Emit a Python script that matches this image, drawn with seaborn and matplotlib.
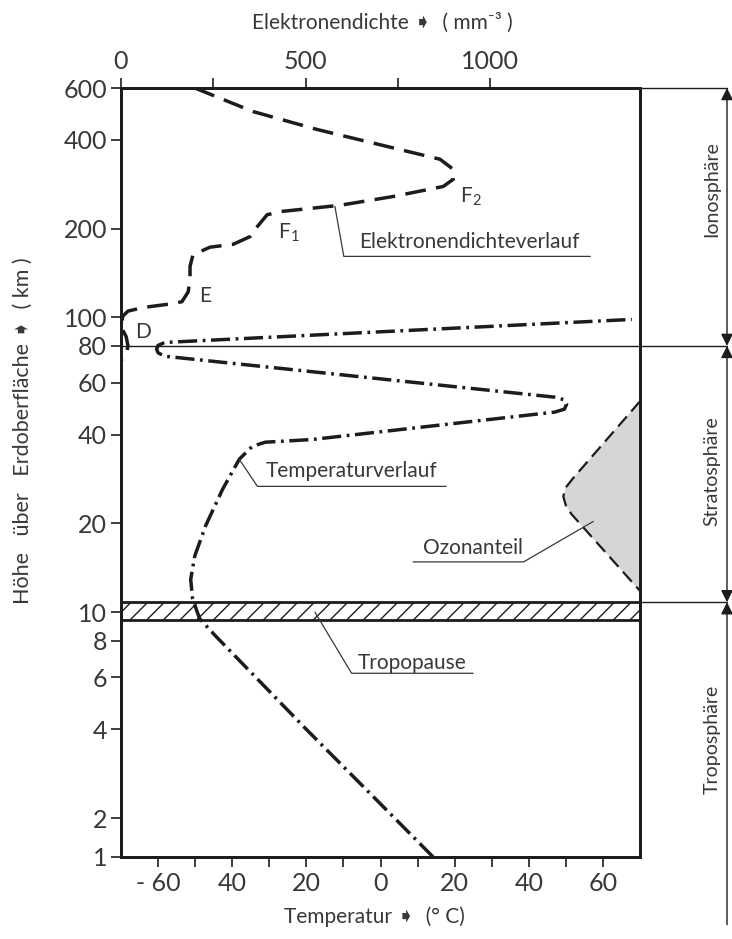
import numpy as np
import matplotlib
matplotlib.use('Agg')
import matplotlib.pyplot as plt
import matplotlib.transforms as mtransforms
import seaborn as sns

# Achsen / Ticks
hoehe_ticks = [1, 2, 4, 6, 8, 10, 20, 40, 60, 80, 100, 200, 400, 600]
temp_ticks = [-60, -40, -20, 0, 20, 40, 60]
temp_ticklabels = ['- 60', '40', '20', '0', '20', '40', '60']
temp_minor = [-50, -30, -10, 10, 30, 50]
dichte_ticks = [0, 250, 500, 750, 1000]
dichte_ticklabels = ['0', '', '500', '', '1000']

# Temperaturverlauf (°C, km)
temp_T = [14.2, 3.8, -20.0, -44.5, -48.8, -50.7, -51.2, -50.1, -47.2, -42.6, -38.1,
          -34.6, -31.1, -18.5, 47.0, 49.6, 50.2, 49.6, 47.0, -58.2, -60.0, -60.4,
          -60.0, -58.2, 67.8]
temp_h = [1, 2, 4, 8.3, 9.5, 11.1, 12.9, 15.5, 19.6, 26.1, 33.0,
          36.5, 37.7, 38.5, 47.7, 48.8, 50.7, 52.5, 53.6, 73.8, 75.8, 78.0,
          80.3, 82.2, 98.4]

# Elektronendichteverlauf (mm^-3, km)
dichte_n = [200, 358, 531, 721, 864, 900, 900, 873, 737, 593, 439, 396, 369, 350, 304,
            241, 195, 187, 187, 182, 165, 133, 60, 19, 5, 0, 14, 19, 14, 3]
dichte_h = [600, 499, 434, 380, 344, 318, 294, 278, 257, 240, 229, 223, 203, 188, 177,
            173, 163, 149, 135, 122, 113, 111, 108, 105, 101, 93, 86, 80, 75, 72]

# Ozonanteil (schematisch, in Temperatur-Koordinaten)
ozon_T = [70, 52.0, 50.0, 49.3, 50.0, 51.5, 70]
ozon_h = [51.9, 28.5, 26.5, 24.7, 23.0, 21.5, 11.8]

tropo_unten, tropo_oben = 9.4, 10.8
grenze_iono = 80
schichten = ['Ionosphäre', 'Stratosphäre', 'Troposphäre']
schicht_h = [272, 30.1, 3.7]

# Hoehenskala: log ab 2 km, darunter gestaucht
K = 0.132
def fwd(h):
    h = np.asarray(h, dtype=float)
    out = np.empty_like(h)
    m = h >= 2
    out[m] = np.log10(h[m])
    out[~m] = np.log10(2) - K * (2 - h[~m])
    return out

def inv(v):
    v = np.asarray(v, dtype=float)
    out = np.empty_like(v)
    m = v >= np.log10(2)
    out[m] = 10 ** v[m]
    out[~m] = 2 - (np.log10(2) - v[~m]) / K
    return out

sns.set_style('ticks')
plt.rcParams['font.family'] = ['Lato', 'DejaVu Sans']
plt.rcParams['hatch.linewidth'] = 1.0
txt = '#383838'
ink = '#1c1c1c'

fig = plt.figure(figsize=(7.32, 9.39), dpi=100)
ax = fig.add_axes([121 / 732, 82 / 939, 519 / 732, 769 / 939])
ax.set_yscale('function', functions=(fwd, inv))
ax.set_ylim(1, 600)
ax.set_xlim(-70, 70)

# Ozon
ax.fill(ozon_T, ozon_h, color='#d6d6d6', lw=0)
ax.plot(ozon_T, ozon_h, color=ink, lw=1.6, ls=(0, (6, 3)))

# Tropopause
ax.axhspan(tropo_unten, tropo_oben, facecolor='none', edgecolor=ink, hatch='//', lw=2)

# Temperatur
sns.lineplot(x=temp_T, y=temp_h, sort=False, estimator=None, ax=ax, color=ink,
             lw=2.5, linestyle=(0, (5.5, 1.6, 0.8, 1.6)))

# Elektronendichte auf oberer Achse
ax2 = ax.twiny()
ax2.set_xlim(0, 1406)
sns.lineplot(x=dichte_n, y=dichte_h, sort=False, estimator=None, ax=ax2, color=ink,
             lw=2.5, linestyle=(0, (6, 3)))

ax.set_yticks(hoehe_ticks)
ax.set_yticklabels([str(t) for t in hoehe_ticks])
ax.yaxis.set_minor_locator(matplotlib.ticker.NullLocator())
ax.set_xticks(temp_ticks)
ax.set_xticklabels(temp_ticklabels)
ax.set_xticks(temp_minor, minor=True)
ax2.set_xticks(dichte_ticks)
ax2.set_xticklabels(dichte_ticklabels)
ax2.xaxis.set_minor_locator(matplotlib.ticker.NullLocator())

for a in (ax, ax2):
    a.tick_params(which='both', direction='out', length=7, width=1.2, color=ink,
                  labelsize=18, labelcolor=txt, pad=4)
    for s in a.spines.values():
        s.set_linewidth(2)
        s.set_color(ink)
ax.tick_params(axis='y', pad=3)

ax.set_xlabel('Temperatur ➧  (° C)', fontsize=15, color=txt)
ax.xaxis.set_label_coords(0.489, -0.064)
ax.set_ylabel('Höhe   über   Erdoberfläche ➧  ( km )', fontsize=15.5, color=txt)
ax.yaxis.set_label_coords(-0.17, 0.555)
ax2.set_xlabel('Elektronendichte ➧  ( mm⁻³ )', fontsize=15, color=txt)
ax2.xaxis.set_label_coords(0.503, 1.077)

# Grenzlinien rechts
xr = (727 - 121) / 519
bt = mtransforms.blended_transform_factory(ax.transAxes, ax.transData)
ax.plot([1, xr], [600, 600], color=ink, lw=1, transform=bt, clip_on=False)
ax.plot([0, xr], [grenze_iono, grenze_iono], color=ink, lw=1, transform=bt, clip_on=False)
ax.plot([1, xr], [tropo_oben, tropo_oben], color=ink, lw=1, transform=bt, clip_on=False)
pfeil = dict(arrowstyle='<|-|>', color=ink, lw=1, shrinkA=0, shrinkB=0, mutation_scale=18)
ax.annotate('', xy=(xr, 600), xytext=(xr, grenze_iono), xycoords=('axes fraction', 'data'),
            textcoords=('axes fraction', 'data'), arrowprops=pfeil, annotation_clip=False)
ax.annotate('', xy=(xr, grenze_iono), xytext=(xr, tropo_oben), xycoords=('axes fraction', 'data'),
            textcoords=('axes fraction', 'data'), arrowprops=pfeil, annotation_clip=False)
ax.annotate('', xy=(xr, tropo_oben), xytext=(xr, -0.088), xycoords=('axes fraction', 'data'),
            textcoords=('axes fraction', 'axes fraction'),
            arrowprops=dict(pfeil, arrowstyle='-|>'), annotation_clip=False)
for name, h in zip(schichten, schicht_h):
    ax.text((712 - 121) / 519, h, name, transform=bt, rotation=90, ha='center', va='center',
            fontsize=14, color=txt)

# Beschriftungen mit Hinweislinien
def hinweis(text, spitze, knick, ende, pos):
    ax.plot([spitze[0], knick[0], ende[0]], [spitze[1], knick[1], ende[1]],
            color=txt, lw=0.9)
    ax.text(pos[0], pos[1], text, ha='center', va='center', fontsize=15, color=txt)

hinweis('Elektronendichteverlauf', (-12.3, 238), (-9.9, 161), (56.6, 161), (23.9, 180))
hinweis('Temperaturverlauf', (-38.1, 33.0), (-33.2, 26.7), (17.7, 26.7), (-7.8, 30.1))
hinweis('Ozonanteil', (57.4, 20.3), (38.6, 14.8), (8.8, 14.8), (25.0, 16.5))
hinweis('Tropopause', (-17.7, 10.0), (-7.8, 6.2), (25.0, 6.2), (8.6, 6.7))

ax.text(-64, 89, 'D', fontsize=15, color=txt, ha='center', va='center')
ax.text(-47.2, 118, 'E', fontsize=15, color=txt, ha='center', va='center')
ax.text(-24.7, 194, 'F$_{\\mathregular{1}}$', fontsize=15, color=txt, ha='center', va='center')
ax.text(24.4, 257, 'F$_{\\mathregular{2}}$', fontsize=15, color=txt, ha='center', va='center')

fig.savefig('out.png', dpi=100)
